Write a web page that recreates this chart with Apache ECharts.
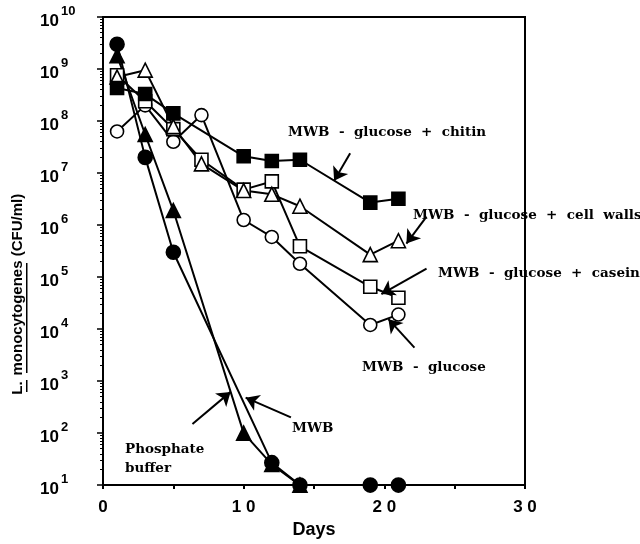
<!DOCTYPE html>
<html>
<head>
<meta charset="utf-8">
<script src="https://cdn.jsdelivr.net/npm/echarts@6/dist/echarts.min.js"></script>
<style>
    html, body {margin: 0; padding: 0; background: #fff;}
    #chart {width: 640px; height: 544px;}
</style>
</head>
<body>
<div id="chart"></div>
<script>
// sampling days
var days = [1, 3, 5, 7, 10, 12, 14, 19, 21];

// CFU/ml per series (null = no point that day)
var phosphateBuffer = [3e9, 2e7, 3e5, null, null, 27, 10, 10, 10];
var mwb = [1.8e9, 5.5e7, 1.9e6, null, 100, 25, 10, null, null];
var chitin = [4.3e8, 3.3e8, 1.4e8, null, 2.1e7, 1.7e7, 1.8e7, 2.7e6, 3.2e6];
var cellWalls = [7e8, 9.5e8, 7.8e7, 1.5e7, 4.6e6, 3.9e6, 2.3e6, 2.7e5, 5e5];
var casein = [7.6e8, 2.4e8, 7e7, 1.8e7, 4.8e6, 6.9e6, 3.9e5, 6.5e4, 4e4];
var glucose = [6.3e7, 2e8, 4e7, 1.3e8, 1.25e6, 5.9e5, 1.8e5, 1.2e4, 1.9e4];

var xTicks = [0, 10, 20, 30];

// arrows: [from, to] in data units
var arrows = [
    [[17.57, 2.4e7], [16.43, 7.1e6]],
    [[23.0, 1.45e6], [21.57, 4.4e5]],
    [[23.0, 1.45e5], [19.79, 4.7e4]],
    [[22.14, 4.4e3], [20.29, 1.55e4]],
    [[13.36, 200], [10.14, 480]],
    [[6.36, 150], [9.07, 620]]
];

var labelFont = 'bold 13.5px "DejaVu Serif", "Liberation Serif", serif';
var sansFont = '"Liberation Sans", Arial, sans-serif';

function toPairs(values) {
    var out = [];
    for (var i = 0; i < days.length; i++) {
        if (values[i] !== null) out.push([days[i], values[i]]);
    }
    return out;
}

function makeSeries(name, values, symbol, filled, size) {
    return {
        name: name,
        type: 'line',
        data: toPairs(values),
        symbol: symbol,
        symbolSize: size,
        showAllSymbol: true,
        lineStyle: {color: '#000', width: 2},
        itemStyle: {
            color: filled ? '#000' : '#fff',
            borderColor: '#000',
            borderWidth: 1.6
        },
        emphasis: {disabled: true},
        z: 3
    };
}

var chart = echarts.init(document.getElementById('chart'));

var series = [
    makeSeries('MWB - glucose', glucose, 'circle', false, 13),
    makeSeries('MWB - glucose + casein', casein, 'rect', false, 13),
    makeSeries('MWB - glucose + cell walls', cellWalls, 'triangle', false, 14),
    makeSeries('MWB - glucose + chitin', chitin, 'rect', true, 13),
    makeSeries('MWB', mwb, 'triangle', true, 14),
    makeSeries('Phosphate buffer', phosphateBuffer, 'circle', true, 14)
];

series[0].markLine = {
    silent: true,
    animation: false,
    symbol: ['none', 'arrow'],
    symbolSize: 13,
    label: {show: false},
    lineStyle: {color: '#000', width: 2, type: 'solid'},
    emphasis: {disabled: true},
    data: arrows.map(function (a) {
        return [{coord: a[0]}, {coord: a[1]}];
    })
};

var option = {
    animation: false,
    backgroundColor: '#fff',
    grid: {
        left: 103, right: 115, top: 17, bottom: 52,
        show: true, borderColor: '#000', borderWidth: 2
    },
    xAxis: {
        type: 'value',
        min: 0, max: 30, interval: 5,
        name: 'Days',
        nameLocation: 'middle',
        nameGap: 30,
        nameTextStyle: {fontSize: 18, fontWeight: 'bold', fontFamily: sansFont, color: '#000'},
        axisLine: {lineStyle: {color: '#000', width: 2}},
        axisTick: {length: 4, lineStyle: {color: '#000', width: 2}},
        splitLine: {show: false},
        axisLabel: {
            margin: 14,
            fontSize: 17, fontWeight: 'bold', fontFamily: sansFont, color: '#000',
            formatter: function (v) {
                return xTicks.indexOf(v) >= 0 ? String(v).split('').join(' ') : '';
            }
        }
    },
    yAxis: {
        type: 'log',
        logBase: 10,
        min: 10, max: 1e10,
        axisLine: {lineStyle: {color: '#000', width: 2}},
        axisTick: {length: 6, lineStyle: {color: '#000', width: 1.5}},
        minorTick: {show: true, splitNumber: 9, length: 3, lineStyle: {color: '#000', width: 1}},
        splitLine: {show: false},
        axisLabel: {
            align: 'left',
            margin: 63,
            color: '#000',
            formatter: function (v) {
                var e = Math.round(Math.log(v) / Math.LN10);
                return '{b|10}{e|' + e + '}';
            },
            rich: {
                b: {fontSize: 17, fontWeight: 'bold', fontFamily: sansFont, color: '#000', verticalAlign: 'bottom', padding: [8, 0, 0, 0]},
                e: {fontSize: 13, fontWeight: 'bold', fontFamily: sansFont, color: '#000', verticalAlign: 'top', padding: [0, 0, 0, 2]}
            }
        }
    },
    graphic: [
        // y axis title with underlines
        {type: 'text', x: 18, y: 388, rotation: Math.PI / 2,
            style: {text: 'L.', font: 'bold 15px ' + sansFont, fill: '#000', align: 'center', verticalAlign: 'middle'}},
        {type: 'text', x: 18, y: 318, rotation: Math.PI / 2,
            style: {text: 'monocytogenes', font: 'bold 15px ' + sansFont, fill: '#000', align: 'center', verticalAlign: 'middle'}},
        {type: 'text', x: 18, y: 225, rotation: Math.PI / 2,
            style: {text: '(CFU/ml)', font: 'bold 15px ' + sansFont, fill: '#000', align: 'center', verticalAlign: 'middle'}},
        {type: 'rect', shape: {x: 26, y: 263, width: 1.5, height: 110}, style: {fill: '#000'}},
        {type: 'rect', shape: {x: 26, y: 380, width: 1.5, height: 12}, style: {fill: '#000'}},
        // series annotations
        {type: 'text', x: 288, y: 132,
            style: {text: 'MWB  -  glucose  +  chitin', font: labelFont, fill: '#000', verticalAlign: 'middle'}},
        {type: 'text', x: 413, y: 215,
            style: {text: 'MWB  -  glucose  +  cell  walls', font: labelFont, fill: '#000', verticalAlign: 'middle'}},
        {type: 'text', x: 438, y: 273,
            style: {text: 'MWB  -  glucose  +  casein', font: labelFont, fill: '#000', verticalAlign: 'middle'}},
        {type: 'text', x: 362, y: 367,
            style: {text: 'MWB  -  glucose', font: labelFont, fill: '#000', verticalAlign: 'middle'}},
        {type: 'text', x: 292, y: 428,
            style: {text: 'MWB', font: labelFont, fill: '#000', verticalAlign: 'middle'}},
        {type: 'text', x: 125, y: 440,
            style: {text: 'Phosphate\nbuffer', font: labelFont, fill: '#000', verticalAlign: 'top', lineHeight: 19}}
    ],
    series: series
};

chart.setOption(option);

window.addEventListener('resize', function () {
    chart.resize();
});
</script>
</body>
</html>
